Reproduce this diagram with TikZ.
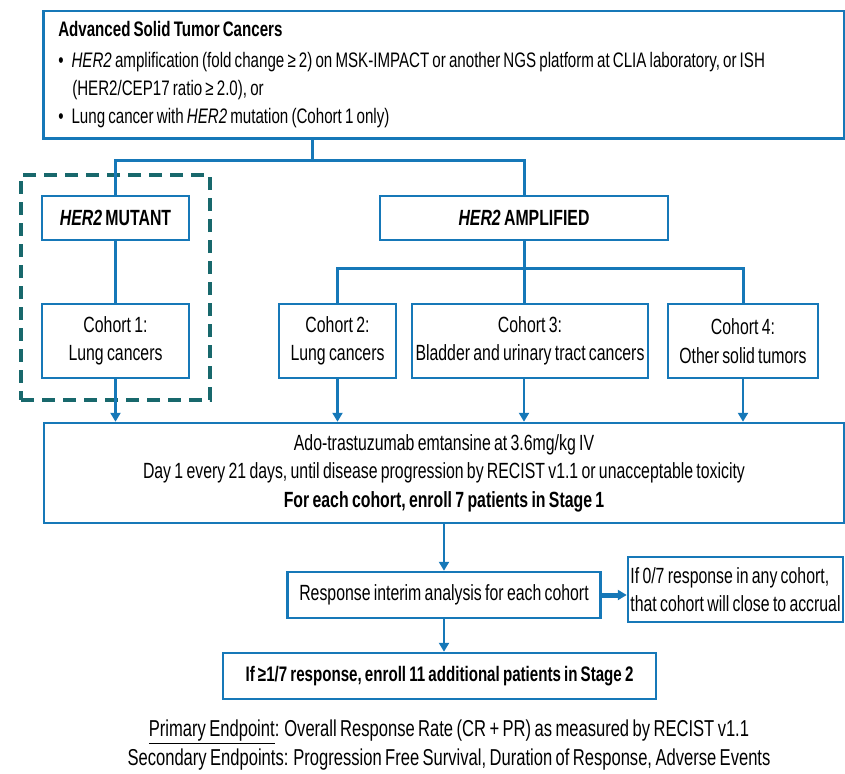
\documentclass[tikz,border=0pt]{standalone}
\usepackage{fontspec}
\setmainfont[FakeStretch=0.72, WordSpace=0.75]{Liberation Sans}
\usepackage{tikz}
\usetikzlibrary{arrows.meta,positioning}
\definecolor{trialblue}{RGB}{22,120,184}
\definecolor{trialteal}{RGB}{24,104,108}
\tikzstyle{line} = [line width=3pt, color=trialblue]
\tikzstyle{arrow} = [line width=2.5pt, -{Triangle[length=9pt,width=10pt]}, color=trialblue]
\tikzstyle{box} = [rectangle, draw=trialblue, line width=2.5pt, fill=white, text centered, inner sep=0pt, font=\fontsize{22}{28.5}\selectfont]
\tikzstyle{cohort} = [box, minimum height=74pt, align=center]
\tikzstyle{group} = [box, minimum height=44pt, font=\fontsize{22}{28.5}\selectfont\bfseries]
\tikzstyle{frame} = [rectangle, draw=trialteal, line width=4pt, dash pattern=on 13pt off 8pt]
\tikzstyle{endpoint} = [inner sep=0pt, font=\fontsize{23}{28}\selectfont]

\begin{document}
\begin{tikzpicture}[x=1pt, y=-1pt]
\useasboundingbox (0,0) rectangle (845,773);

% Eligibility
\node (top) [box, anchor=north west, minimum width=801pt, minimum height=127pt, text width=771pt, align=left, font=\fontsize{21}{28}\selectfont] at (42,10) {\spaceskip=0pt\xspaceskip=0pt{\bfseries Advanced Solid Tumor Cancers}\\[3pt]
\textbullet\hspace{8pt}\textit{HER2} amplification (fold change ≥ 2) on MSK-IMPACT or another NGS platform at CLIA laboratory, or ISH\\
\hspace*{14pt}(HER2/CEP17 ratio ≥ 2.0), or\\
\textbullet\hspace{8pt}Lung cancer with \textit{HER2} mutation (Cohort 1 only)};

% Mutant group
\node (mutframe) [frame, minimum width=189pt, minimum height=225pt] at (115.5,287.5) {};
\node (mutant) [group, minimum width=147pt] at (115.5,218) {\textit{HER2} MUTANT};
\node (coh1) [cohort, below of=mutant, node distance=123pt, minimum width=147pt] {Cohort 1:\\Lung cancers};

% Amplified group
\node (ampl) [group, minimum width=288pt] at (524,218) {\textit{HER2} AMPLIFIED};
\node (coh2) [cohort, minimum width=117pt] at (337.5,341) {Cohort 2:\\Lung cancers};
\node (coh3) [cohort, below of=ampl, node distance=123pt, xshift=6pt, minimum width=236pt] {Cohort 3:\\Bladder and urinary tract cancers};
\node (coh4) [cohort, minimum width=150pt] at (743,341) {Cohort 4:\\Other solid tumors};

% Treatment and stages
\node (treat) [box, minimum width=800pt, minimum height=100pt, align=center] at (444,473) {Ado-trastuzumab emtansine at 3.6mg/kg IV\\Day 1 every 21 days, until disease progression by RECIST v1.1 or unacceptable toxicity\\\textbf{For each cohort, enroll 7 patients in Stage 1}};
\node (resp) [box, below of=treat, node distance=122pt, minimum width=313pt, minimum height=46pt] {Response interim analysis for each cohort};
\node (side) [box, minimum width=215pt, minimum height=65pt, align=left] at (735.5,589.5) {If 0/7 response in any cohort,\\that cohort will close to accrual};
\node (final) [box, minimum width=433pt, minimum height=46pt, font=\fontsize{21}{28.5}\selectfont\bfseries] at (439.5,676) {If ≥1/7 response, enroll 11 additional patients in Stage 2};

% Endpoints
\node (prim) [endpoint] at (449,732) {\underline{Primary Endpoint}: Overall Response Rate (CR + PR) as measured by RECIST v1.1};
\node (sec) [endpoint, below of=prim, node distance=28pt] {Secondary Endpoints: Progression Free Survival, Duration of Response, Adverse Events};

% Connections
\coordinate (split) at (312,160);
\coordinate (ampsplit) at (524,268);
\draw[line] (top.south -| split) -- (split);
\draw[line] (mutant.north) |- (split) -| (ampl.north);
\draw[line] (mutant.south) -- (coh1.north);
\draw[line] (ampl.south) -- (ampsplit);
\draw[line] (coh2.north) |- (ampsplit) -| (coh4.north);
\draw[line] (ampsplit) -- (coh3.north -| ampsplit);

\draw[arrow] (coh1.south) -- (coh1.south |- treat.north);
\draw[arrow] (coh2.south) -- (coh2.south |- treat.north);
\draw[arrow] (coh3.south -| ampsplit) -- (treat.north -| ampsplit);
\draw[arrow] (coh4.south) -- (coh4.south |- treat.north);
\draw[arrow] (treat.south -| resp.north) -- (resp.north);
\draw[arrow, line width=5pt] (resp.east) -- (resp.east -| side.west);
\draw[arrow] (resp.south) -- (resp.south |- final.north);
\end{tikzpicture}
\end{document}
